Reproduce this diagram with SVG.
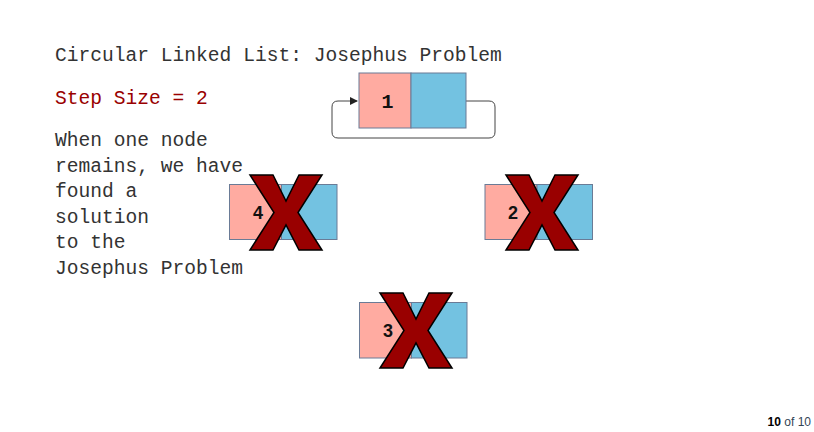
<svg xmlns="http://www.w3.org/2000/svg" width="814" height="432" viewBox="0 0 814 432">
<style>
.t{font-family:"Liberation Mono","Courier New",monospace;font-size:19.6px;fill:#333}
.red{fill:#990000}
.pink{fill:#ffaba1;stroke:#6a7b96;stroke-width:1}
.blue{fill:#73c2e1;stroke:#6a7b96;stroke-width:1}
.num{font-family:"Liberation Sans",Arial,sans-serif;font-size:18px;font-weight:bold;fill:#111;text-anchor:middle}
.x{fill:#990000;stroke:#000;stroke-width:1.5;stroke-linejoin:miter}
.conn{fill:none;stroke:#444;stroke-width:1}
</style>
<defs>
<marker id="arr" markerWidth="8" markerHeight="8" refX="7" refY="4" orient="auto" markerUnits="userSpaceOnUse">
<path d="M0,0 L8,4 L0,8 Z" fill="#222"/>
</marker>
<polygon id="xs" points="0,0 23,0 36,26 49,0 72,0 48,37.5 72,75 49,75 36,50 23,75 0,75 24,37.5"/>
</defs>
<rect width="814" height="432" fill="#fff"/>
<text class="t" x="55" y="61">Circular Linked List: Josephus Problem</text>
<text class="t red" x="55" y="104">Step Size = 2</text>
<text class="t" x="55" y="146">When one node</text>
<text class="t" x="55" y="171.6">remains, we have</text>
<text class="t" x="55" y="197.2">found a</text>
<text class="t" x="55" y="222.8">solution</text>
<text class="t" x="55" y="248.4">to the</text>
<text class="t" x="55" y="274">Josephus Problem</text>
<g id="connectors">
<path class="conn" d="M466,101 H489 Q495,101 495,107 V132 Q495,138 489,138 H338 Q332,138 332,132 V107 Q332,101 338,101 H357" marker-end="url(#arr)"/>
</g>
<g id="node1">
<rect class="pink" x="359" y="73" width="52" height="55"/>
<rect class="blue" x="411" y="73" width="55" height="55"/>
<text x="387.5" y="108" style="font-family:'Liberation Mono','Courier New',monospace;font-size:20px;font-weight:bold;fill:#111;text-anchor:middle">1</text>
</g>
<g id="node4">
<rect class="pink" x="229.5" y="184.5" width="52" height="55"/>
<rect class="blue" x="281.5" y="184.5" width="55.5" height="55"/>
<text class="num" x="258" y="219">4</text>
<use href="#xs" class="x" x="250" y="175"/>
</g>
<g id="node2">
<rect class="pink" x="485" y="184.5" width="52" height="55"/>
<rect class="blue" x="537" y="184.5" width="55.5" height="55"/>
<text class="num" x="513" y="218.5">2</text>
<use href="#xs" class="x" x="506" y="175"/>
</g>
<g id="node3">
<rect class="pink" x="359.5" y="302.5" width="52" height="55.5"/>
<rect class="blue" x="411.5" y="302.5" width="55.5" height="55.5"/>
<text class="num" x="388" y="336.5">3</text>
<use href="#xs" class="x" x="380" y="293"/>
</g>
<text x="811" y="426" style="font-family:'Liberation Sans',Arial,sans-serif;font-size:12px;text-anchor:end;fill:#345"><tspan font-weight="bold" fill="#000">10</tspan> of 10</text>
</svg>
